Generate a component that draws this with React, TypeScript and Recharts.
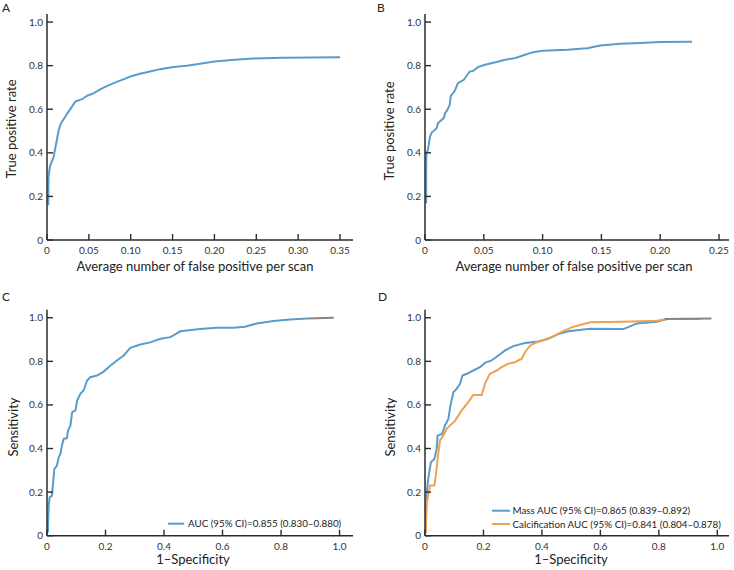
import React from 'react';
import { LineChart, Line, XAxis, YAxis } from 'recharts';

const FONT = 'Lato, "Open Sans", sans-serif';
const BLUE = '#5a9cc9';
const ORANGE = '#f0a150';
const GRAY = '#858585';
const AXIS = '#2b2b2b';

// Tick values / labels
const yTicks = [0, 0.2, 0.4, 0.6, 0.8, 1.0];
const yTickLabels = ['0', '0.2', '0.4', '0.6', '0.8', '1.0'];
const aXTicks = [0, 0.05, 0.1, 0.15, 0.2, 0.25, 0.3, 0.35];
const aXTickLabels = ['0', '0.05', '0.10', '0.15', '0.20', '0.25', '0.30', '0.35'];
const bXTicks = [0, 0.05, 0.1, 0.15, 0.2, 0.25];
const bXTickLabels = ['0', '0.05', '0.10', '0.15', '0.20', '0.25'];
const rocXTicks = [0, 0.2, 0.4, 0.6, 0.8, 1.0];
const rocXTickLabels = ['0', '0.2', '0.4', '0.6', '0.8', '1.0'];

// Panel A (FROC)
const aX = [0.0015, 0.0018, 0.0035, 0.008, 0.011, 0.014, 0.0167, 0.022, 0.026, 0.03, 0.034, 0.042, 0.048, 0.056, 0.064, 0.072, 0.084, 0.092, 0.0995, 0.111, 0.123, 0.135, 0.151, 0.167, 0.181, 0.2, 0.224, 0.246, 0.282, 0.35];
const aY = [0.16, 0.29, 0.337, 0.383, 0.444, 0.505, 0.536, 0.567, 0.59, 0.613, 0.636, 0.646, 0.662, 0.674, 0.692, 0.707, 0.727, 0.738, 0.75, 0.763, 0.773, 0.784, 0.794, 0.8, 0.808, 0.819, 0.827, 0.833, 0.836, 0.839];

// Panel B (FROC)
const bX = [0.001, 0.001, 0.0012, 0.0025, 0.0043, 0.0057, 0.0099, 0.011, 0.014, 0.016, 0.017, 0.019, 0.021, 0.022, 0.025, 0.028, 0.033, 0.038, 0.041, 0.045, 0.051, 0.06, 0.068, 0.077, 0.085, 0.092, 0.1, 0.121, 0.138, 0.149, 0.166, 0.183, 0.2, 0.227];
const bY = [0.168, 0.32, 0.4, 0.413, 0.475, 0.493, 0.513, 0.536, 0.551, 0.559, 0.582, 0.597, 0.62, 0.662, 0.681, 0.72, 0.735, 0.773, 0.776, 0.793, 0.804, 0.816, 0.827, 0.835, 0.85, 0.862, 0.868, 0.873, 0.88, 0.892, 0.9, 0.904, 0.908, 0.91];

// Panel C (ROC)
const cX = [0.003, 0.004, 0.006, 0.009, 0.017, 0.02, 0.025, 0.034, 0.04, 0.046, 0.051, 0.057, 0.068, 0.072, 0.08, 0.086, 0.097, 0.103, 0.114, 0.125, 0.137, 0.148, 0.171, 0.194, 0.217, 0.239, 0.262, 0.285, 0.319, 0.353, 0.388, 0.422, 0.456, 0.523, 0.58, 0.637, 0.677, 0.717, 0.774, 0.831, 0.89];
const cY = [0.015, 0.077, 0.138, 0.176, 0.184, 0.23, 0.306, 0.322, 0.36, 0.375, 0.413, 0.444, 0.447, 0.482, 0.505, 0.567, 0.574, 0.62, 0.651, 0.666, 0.712, 0.727, 0.735, 0.753, 0.781, 0.804, 0.827, 0.862, 0.877, 0.887, 0.904, 0.911, 0.938, 0.948, 0.954, 0.954, 0.959, 0.974, 0.985, 0.992, 0.997];
const cTailX = [0.89, 0.98];
const cTailY = [0.997, 1.0];

// Panel D (ROC) - Mass
const dMX = [0.003, 0.004, 0.006, 0.011, 0.02, 0.032, 0.04, 0.043, 0.059, 0.068, 0.08, 0.086, 0.097, 0.108, 0.12, 0.128, 0.143, 0.165, 0.188, 0.205, 0.228, 0.251, 0.274, 0.302, 0.342, 0.388, 0.422, 0.456, 0.491, 0.565, 0.679, 0.725, 0.793, 0.828];
const dMY = [0.015, 0.138, 0.2, 0.26, 0.337, 0.352, 0.398, 0.459, 0.467, 0.505, 0.536, 0.59, 0.658, 0.674, 0.697, 0.735, 0.743, 0.758, 0.773, 0.793, 0.804, 0.827, 0.85, 0.87, 0.884, 0.891, 0.904, 0.925, 0.938, 0.95, 0.948, 0.974, 0.982, 0.994];
// Panel D (ROC) - Calcification
const dCX = [0.003, 0.004, 0.006, 0.011, 0.017, 0.032, 0.036, 0.046, 0.051, 0.066, 0.074, 0.091, 0.103, 0.114, 0.125, 0.148, 0.165, 0.194, 0.205, 0.222, 0.245, 0.262, 0.285, 0.308, 0.331, 0.342, 0.36, 0.376, 0.399, 0.433, 0.467, 0.508, 0.565, 0.679, 0.793, 0.828, 0.942];
const dCY = [0.015, 0.077, 0.153, 0.184, 0.23, 0.23, 0.268, 0.383, 0.436, 0.467, 0.49, 0.513, 0.528, 0.551, 0.574, 0.613, 0.646, 0.646, 0.697, 0.743, 0.758, 0.773, 0.789, 0.796, 0.812, 0.842, 0.873, 0.884, 0.894, 0.911, 0.935, 0.959, 0.979, 0.982, 0.986, 0.994, 0.994];
const dTailX = [0.82, 0.98];
const dTailY = [0.994, 0.997];

const cLegend = 'AUC (95% CI)=0.855 (0.830\u20130.880)';
const dLegendMass = 'Mass AUC (95% CI)=0.865 (0.839\u20130.892)';
const dLegendCalc = 'Calcification AUC (95% CI)=0.841 (0.804\u20130.878)';

const zip = (xs: number[], ys: number[]) => xs.map((x, i) => ({ x, y: ys[i] }));

const labelFor = (vals: number[], labels: string[], v: number) => {
  const i = vals.findIndex((t) => Math.abs(t - v) < 1e-9);
  return i >= 0 ? labels[i] : String(v);
};

const makeXTick = (vals: number[], labels: string[]) => (props: any) => {
  const { x, y, payload } = props;
  return (
    <g>
      <line x1={x} y1={y} x2={x} y2={y - 6} stroke={AXIS} strokeWidth={1.4} />
      <text x={x} y={y + 14} textAnchor="middle" fontSize={10} fill="#333" fontFamily={FONT}>
        {labelFor(vals, labels, payload.value)}
      </text>
    </g>
  );
};

const YTick = (props: any) => {
  const { x, y, payload } = props;
  return (
    <g>
      <line x1={x} y1={y} x2={x + 6} y2={y} stroke={AXIS} strokeWidth={1.4} />
      <text x={x - 4} y={y + 3.5} textAnchor="end" fontSize={10} fill="#333" fontFamily={FONT}>
        {labelFor(yTicks, yTickLabels, payload.value)}
      </text>
    </g>
  );
};

type Series = { data: { x: number; y: number }[]; color: string; key: string };

function Panel(props: {
  left: number;
  top: number;
  margin: { top: number; left: number; right: number; bottom: number };
  xDomain: [number, number];
  xTicks: number[];
  xTickLabels: string[];
  series: Series[];
}) {
  const { left, top, margin, xDomain, xTicks, xTickLabels, series } = props;
  return (
    <div style={{ position: 'absolute', left, top }}>
      <LineChart width={367} height={285} margin={margin}>
        <XAxis
          type="number"
          dataKey="x"
          domain={xDomain}
          ticks={xTicks}
          interval={0}
          tickLine={false}
          tickSize={0}
          tickMargin={0}
          height={30}
          axisLine={{ stroke: AXIS, strokeWidth: 1.5 }}
          tick={makeXTick(xTicks, xTickLabels)}
        />
        <YAxis
          type="number"
          dataKey="y"
          domain={[0, 1.037]}
          ticks={yTicks}
          interval={0}
          tickLine={false}
          tickSize={0}
          tickMargin={0}
          width={40}
          axisLine={{ stroke: AXIS, strokeWidth: 1.5 }}
          tick={<YTick />}
        />
        {series.map((s) => (
          <Line
            key={s.key}
            data={s.data}
            dataKey="y"
            type="linear"
            stroke={s.color}
            strokeWidth={2}
            dot={false}
            activeDot={false}
            isAnimationActive={false}
          />
        ))}
      </LineChart>
    </div>
  );
}

export default function App() {
  const t = { fontFamily: FONT, fill: '#222' };
  return (
    <div style={{ position: 'absolute', left: 0, top: 0, width: 734, height: 570, background: '#fff' }}>
      <Panel
        left={0}
        top={0}
        margin={{ top: 14, left: 7, right: 14, bottom: 15 }}
        xDomain={[0, 0.3655]}
        xTicks={aXTicks}
        xTickLabels={aXTickLabels}
        series={[{ key: 'a', data: zip(aX, aY), color: BLUE }]}
      />
      <Panel
        left={367}
        top={0}
        margin={{ top: 14, left: 18, right: 5, bottom: 15 }}
        xDomain={[0, 0.2585]}
        xTicks={bXTicks}
        xTickLabels={bXTickLabels}
        series={[{ key: 'b', data: zip(bX, bY), color: BLUE }]}
      />
      <Panel
        left={0}
        top={285}
        margin={{ top: 24.7, left: 7, right: 14, bottom: 4.3 }}
        xDomain={[0, 1.046]}
        xTicks={rocXTicks}
        xTickLabels={rocXTickLabels}
        series={[
          { key: 'c', data: zip(cX, cY), color: BLUE },
          { key: 'ct', data: zip(cTailX, cTailY), color: GRAY },
        ]}
      />
      <Panel
        left={367}
        top={285}
        margin={{ top: 24.7, left: 18, right: 5, bottom: 4.3 }}
        xDomain={[0, 1.04]}
        xTicks={rocXTicks}
        xTickLabels={rocXTickLabels}
        series={[
          { key: 'dm', data: zip(dMX, dMY), color: BLUE },
          { key: 'dc', data: zip(dCX, dCY), color: ORANGE },
          { key: 'dt', data: zip(dTailX, dTailY), color: GRAY },
        ]}
      />
      <svg width={734} height={570} style={{ position: 'absolute', left: 0, top: 0, pointerEvents: 'none' }}>
        {/* panel letters */}
        <text x={2} y={12} fontSize={12} {...t}>A</text>
        <text x={377} y={12} fontSize={12} {...t}>B</text>
        <text x={2} y={301} fontSize={12} {...t}>C</text>
        <text x={378} y={301} fontSize={12} {...t}>D</text>
        {/* y titles */}
        <text x={16} y={129} fontSize={13} textAnchor="middle" transform="rotate(-90 16 129)" {...t}>True positive rate</text>
        <text x={394} y={131} fontSize={13} textAnchor="middle" transform="rotate(-90 394 131)" {...t}>True positive rate</text>
        <text x={18} y={427} fontSize={13} textAnchor="middle" transform="rotate(-90 18 427)" {...t}>Sensitivity</text>
        <text x={395} y={427} fontSize={13} textAnchor="middle" transform="rotate(-90 395 427)" {...t}>Sensitivity</text>
        {/* x titles */}
        <text x={195} y={271} fontSize={13} textAnchor="middle" {...t}>Average number of false positive per scan</text>
        <text x={574} y={271} fontSize={13} textAnchor="middle" {...t}>Average number of false positive per scan</text>
        <text x={193} y={564} fontSize={13} textAnchor="middle" {...t}>1–Specificity</text>
        <text x={571} y={564} fontSize={13} textAnchor="middle" {...t}>1–Specificity</text>
        {/* legends */}
        <line x1={168} y1={523.7} x2={184} y2={523.7} stroke={BLUE} strokeWidth={2} />
        <text x={188} y={527.3} fontSize={9.8} {...t}>{cLegend}</text>
        <line x1={492} y1={510.7} x2={510} y2={510.7} stroke={BLUE} strokeWidth={2} />
        <text x={512.5} y={514.3} fontSize={9.8} {...t}>{dLegendMass}</text>
        <line x1={492} y1={524} x2={510} y2={524} stroke={ORANGE} strokeWidth={2} />
        <text x={512.5} y={527.6} fontSize={9.8} {...t}>{dLegendCalc}</text>
      </svg>
    </div>
  );
}
